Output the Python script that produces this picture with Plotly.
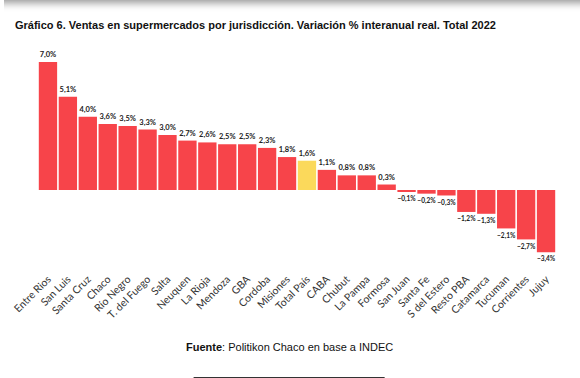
import plotly.graph_objects as go

categories = ["Entre Rios", "San Luis", "Santa Cruz", "Chaco", "Río Negro", "T. del Fuego",
              "Salta", "Neuquen", "La Rioja", "Mendoza", "GBA", "Cordoba", "Misiones",
              "Total País", "CABA", "Chubut", "La Pampa", "Formosa", "San Juan", "Santa Fe",
              "S del Estero", "Resto PBA", "Catamarca", "Tucuman", "Corrientes", "Jujuy"]
values = [7.0, 5.1, 4.0, 3.6, 3.5, 3.3, 3.0, 2.7, 2.6, 2.5, 2.5, 2.3, 1.8,
          1.6, 1.1, 0.8, 0.8, 0.3, -0.1, -0.2, -0.3, -1.2, -1.3, -2.1, -2.7, -3.4]
highlight = "Total País"

RED = "#F7444A"
YELLOW = "#FBD95B"
colors = [YELLOW if c == highlight else RED for c in categories]
labels = [f"{v:.1f}".replace(".", ",").replace("-", "\u2212") + "%" for v in values]

W, H = 580, 378
ML, MR, MT, MB = 30, 24, 51, 120
plot_w = W - ML - MR
plot_h = H - MT - MB
PX_PER_UNIT = 18.3
ZERO_PX = 190

fig = go.Figure(go.Bar(
    x=categories, y=values, marker=dict(color=colors, line=dict(width=0)),
    text=labels, textposition="outside", cliponaxis=False,
    textfont=dict(family="Lato", size=7.5, color="#222", weight="bold"),
    hoverinfo="skip",
))

def py(pix):
    return (H - MB - pix) / plot_h

shapes = [dict(type="line", xref="paper", yref="paper",
               x0=(188 - ML) / plot_w, x1=(382 - ML) / plot_w,
               y0=py(377.5), y1=py(377.5), line=dict(color="#333", width=1))]

annotations = []
# top shadow band (screenshot edge), built from thin boxes
shade = [178, 188, 198, 208, 218, 227, 235, 242, 247, 251, 253, 254]
for i, g in enumerate(shade):
    annotations.append(dict(text="", xref="paper", yref="paper",
                            x=(W / 2 - ML) / plot_w, y=py(i), xanchor="center", yanchor="top",
                            width=W, height=1, borderpad=0, borderwidth=0,
                            bgcolor=f"rgb({g},{g},{g})", showarrow=False))
annotations.append(dict(text="<b>Fuente</b>: Politikon Chaco en base a INDEC",
                        xref="paper", yref="paper", x=(285 - ML) / plot_w, y=py(347),
                        xanchor="center", yanchor="middle", showarrow=False,
                        font=dict(family="Liberation Sans", size=11, color="#111")))

fig.update_layout(
    width=W, height=H,
    margin=dict(l=ML, r=MR, t=MT, b=MB),
    paper_bgcolor="white", plot_bgcolor="white",
    bargap=0.08,
    showlegend=False,
    title=dict(text="<b>Gráfico 6. Ventas en supermercados por jurisdicción. Variación % interanual real. Total 2022</b>",
               x=15 / W, xanchor="left", y=1 - 25 / H, yanchor="middle",
               font=dict(family="Liberation Sans", size=11, color="#111")),
    xaxis=dict(tickangle=-45, tickfont=dict(family="Lato", size=10.5, color="#333"),
               ticklabelstandoff=12,
               showgrid=False, zeroline=False, showline=False, ticks=""),
    yaxis=dict(range=[-(H - MB - ZERO_PX) / PX_PER_UNIT, (ZERO_PX - MT) / PX_PER_UNIT],
               visible=False, showgrid=False, zeroline=False),
    shapes=shapes,
    annotations=annotations,
)

post = "document.body.style.margin='0px';document.body.style.overflow='hidden';"
fig.write_html("out.html", post_script=post, config={"displayModeBar": False})
